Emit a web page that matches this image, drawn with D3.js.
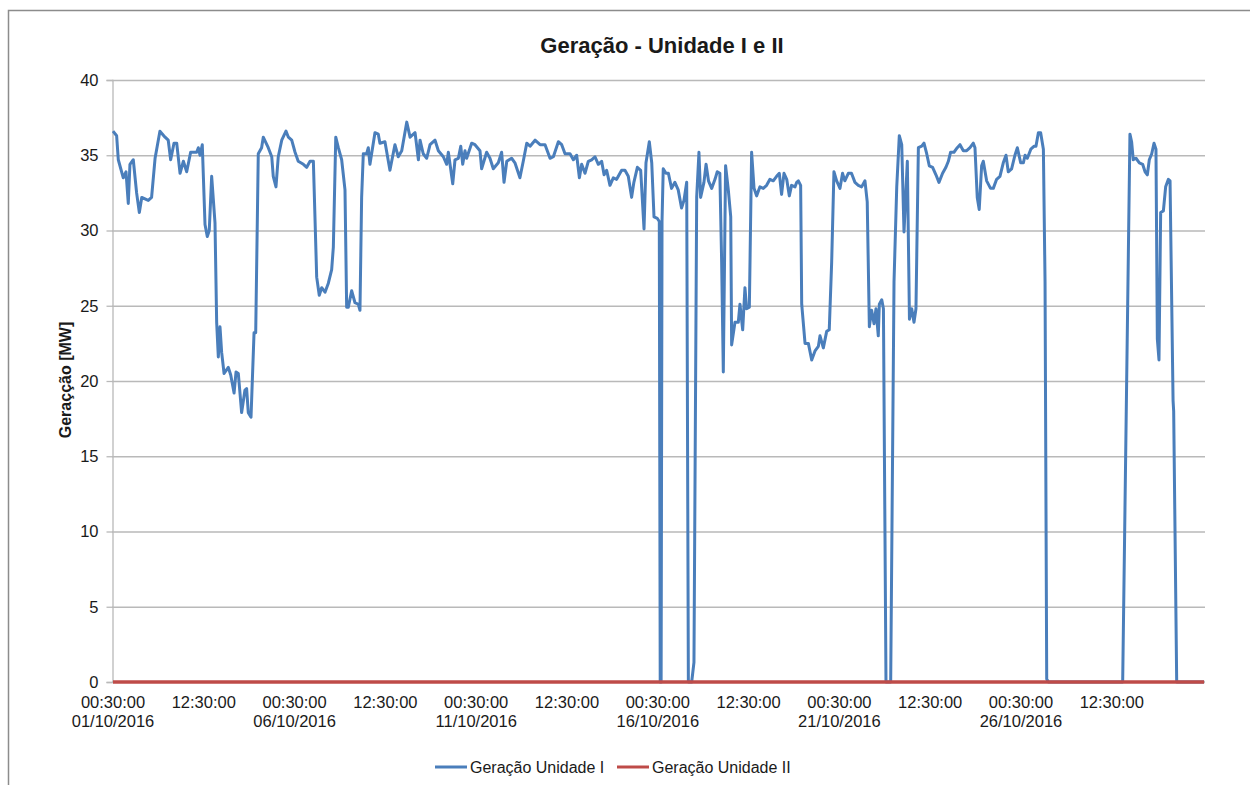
<!DOCTYPE html>
<html>
<head>
<meta charset="utf-8">
<script src="https://cdn.jsdelivr.net/npm/d3@7"></script>
<style>
  body { margin: 0; background: #fff; }
  svg { display: block; font-family: 'Liberation Sans', Arial, sans-serif; }
</style>
</head>
<body>
<div id="chart"></div>
<script>
/* global d3 */

// hours since 01/10/2016 00:30 and generation in MW
const unit1Hours = [
  0, 2.4, 3.5, 6.8, 8.6, 10.1, 11.2, 13.4, 15.6, 17.4, 19, 23.3, 25.5, 27.8, 31, 34.4, 36.5, 38.1,
  40.3, 42.1, 44.3, 46.5, 48.7, 51.3, 55.3, 56.4, 57.5, 59, 60.8, 62.3, 63.6, 65.2, 67.4, 68.5,
  69.6, 70.7, 71.8, 73.4, 76.2, 77.8, 80, 81.3, 82.8, 85, 87.2, 88.3, 89.4, 91.2, 93.2, 94.3,
  96, 98.2, 99.3, 102.6, 104.9, 105.9, 107.7, 109.2, 111.5, 114.3, 115.9, 118.1, 120.3, 122.4,
  125.8, 128, 130.2, 132.4, 134.6, 136.3, 137.9, 140.1, 142.3, 144.5, 145.6, 147.2, 148.9, 151.1,
  153.3, 154.4, 155.5, 157.7, 159.9, 162.1, 163.2, 164.3, 165.4, 167.6, 168.7, 169.8, 173.1,
  175.3, 176.4, 179.7, 183, 186.3, 188.5, 190.8, 194.1, 196.3, 199.6, 201.8, 202.9, 205, 207.3,
  209.5, 212.8, 215, 218.3, 220.5, 221.6, 224.5, 226, 228.2, 229.8, 231.1, 232.6, 233.7, 237,
  239.2, 242.5, 243.6, 246.9, 249.1, 251.3, 254.6, 256.8, 258.4, 260.2, 263.4, 265.6, 268.9,
  271.1, 273.4, 275.6, 278.9, 282.2, 285.5, 288.8, 291, 294.3, 296.5, 298.7, 302, 304.2, 306.4,
  308.2, 309.7, 311.9, 314.1, 316.3, 318.5, 320.7, 322.9, 324.5, 326.2, 328.4, 330.6, 332.8,
  336.1, 338.3, 340.5, 342.7, 344.2, 346.5, 348.7, 350.9, 352.2, 354.4, 356, 357.5, 359.7, 361,
  361.6, 362.2, 362.8, 363.6, 365.4, 367, 369.1, 371.3, 373.5, 375.7, 377.3, 379.1, 380.2, 382.4,
  383.9, 385.7, 387.2, 388.3, 390.5, 391.9, 393.5, 395.6, 397.8, 399.3, 401, 402.2, 403.3, 404.8,
  406.6, 408.2, 408.8, 411, 413.2, 414.3, 416.1, 417.6, 418.7, 420.5, 422, 423.6, 425.3, 427.5,
  429.7, 431.9, 434.1, 436.3, 438.5, 440.3, 441.8, 443.4, 445.2, 446.9, 448.4, 450.7, 451.8,
  452.9, 454.4, 455.1, 457.3, 459.5, 461.7, 463.9, 466.1, 467.2, 469.4, 471.6, 473.3, 474.9,
  476.4, 478.2, 480.4, 482.1, 483.6, 485.9, 488, 490.3, 492.5, 494.7, 496.9, 498.4, 499.8, 501.3,
  502.9, 504.2, 505.7, 506.4, 508, 509.1, 510.8, 513.9, 516.1, 517.9, 519.6, 521.2, 522.7, 524.9,
  526.3, 527.8, 529.3, 530.6, 532.2, 534.4, 535.9, 537.7, 539.4, 541.6, 543.8, 545.8, 548.2,
  550.4, 552, 553.5, 555.7, 557.9, 559.7, 561.9, 564.1, 566.3, 568.5, 569.6, 571.1, 572.4, 574,
  575.1, 577.3, 579.9, 581.7, 583.9, 586.1, 588.3, 590.1, 591.6, 593.8, 596, 597.6, 599.8, 601.6,
  602.7, 604.2, 606.5, 608.7, 609.9, 611.5, 613, 614.8, 615.9, 617, 618.1, 667.2, 672, 673.1,
  674.2, 676, 678.2, 680.4, 682, 683.5, 684.8, 686.4, 687.9, 689.2, 690.1, 691.2, 692.3, 694.1,
  695.6, 697.4, 698.5, 700.5, 700.9, 702.9, 721,
];
const unit1Values = [
  36.6, 36.3, 34.7, 33.5, 33.9, 31.8, 34.4, 34.7, 32.5, 31.2, 32.2, 32.0, 32.2, 34.8, 36.6, 36.2, 36.0, 34.7,
  35.8, 35.8, 33.8, 34.6, 33.9, 35.2, 35.2, 35.5, 35.0, 35.7, 30.4, 29.6, 30.0, 33.6, 30.5, 23.9,
  21.6, 23.6, 21.9, 20.5, 20.9, 20.4, 19.2, 20.6, 20.5, 17.9, 19.4, 19.5, 17.9, 17.6, 23.2, 23.2,
  35.1, 35.5, 36.2, 35.5, 34.9, 33.6, 32.9, 34.9, 36.0, 36.6, 36.2, 36.0, 35.2, 34.6,
  34.4, 34.2, 34.6, 34.6, 26.9, 25.7, 26.2, 25.9, 26.5, 27.4, 28.9, 36.2, 35.5, 34.7,
  32.7, 24.9, 24.9, 26.0, 25.2, 25.1, 24.7, 32.2, 35.1, 35.1, 35.5, 34.4, 36.5,
  36.4, 35.8, 35.9, 34.0, 35.7, 34.9, 35.3, 37.2, 36.2, 36.5, 34.7, 36.0, 35.1, 34.8,
  35.7, 36.0, 35.3, 34.9, 34.4, 35.2, 33.1, 34.7, 34.8, 35.6, 34.4, 35.3, 34.8, 35.8,
  35.7, 35.3, 34.1, 35.2, 34.8, 34.1, 34.5, 35.2, 33.2, 34.6, 34.8, 34.5, 33.5,
  34.6, 35.8, 35.6, 36.0, 35.7, 35.7, 34.8, 34.9, 35.9, 35.7, 35.1, 35.1, 34.7, 35.0,
  33.5, 34.4, 33.8, 34.6, 34.7, 34.9, 34.4, 34.6, 33.7, 34.0, 33.0, 33.5, 33.4,
  34.0, 34.0, 33.6, 32.2, 33.2, 34.2, 34.0, 30.1, 34.5, 35.9, 34.5, 30.9, 30.8, 30.6,
  0, 0, 30.6, 34.1, 33.8, 33.8, 32.8, 33.2, 32.7, 31.5, 32.0, 33.2, 0, 0,
  1.3, 32.2, 35.2, 32.2, 33.2, 34.4, 33.3, 32.8, 33.4, 33.9, 33.8, 27.9, 20.6, 34.3,
  32.7, 30.9, 22.4, 23.9, 23.9, 25.1, 23.4, 26.2, 24.8, 24.9, 35.2, 32.8, 32.3, 32.9,
  32.8, 33.0, 33.4, 33.3, 33.6, 33.8, 32.4, 33.8, 33.4, 32.3, 33.0, 32.9, 33.2,
  33.3, 33.0, 25.1, 22.5, 22.5, 21.4, 22.0, 22.3, 23.0, 22.2, 23.3, 23.4, 27.9,
  33.9, 33.3, 32.8, 33.8, 33.3, 33.8, 33.8, 33.2, 33.0, 32.9, 33.3, 31.9, 23.6, 24.7,
  23.8, 24.8, 23.0, 25.1, 25.4, 24.8, 0, 0, 26.6, 32.9, 36.3, 35.7, 29.9, 34.6,
  24.1, 24.8, 23.9, 24.8, 35.5, 35.6, 35.8, 35.1, 34.3, 34.2, 33.7, 33.2, 33.8,
  34.2, 34.6, 35.2, 35.2, 35.5, 35.7, 35.3, 35.3, 35.5, 35.8, 35.5, 32.2, 31.4, 34.3,
  34.6, 33.3, 32.8, 32.8, 33.4, 33.6, 34.5, 35.0, 33.9, 34.1, 35.0, 35.5, 34.5, 34.5,
  35.0, 34.8, 35.4, 35.6, 35.6, 36.5, 36.5, 35.4, 26.6, 0.2, 0, 0, 36.4, 35.9,
  34.7, 34.8, 34.5, 34.4, 33.9, 33.7, 34.7, 35.1, 35.8, 35.4, 22.8, 21.4, 31.2, 31.3,
  32.9, 33.4, 33.3, 18.7, 18.0, 0, 0,
];
const unit2Hours = [0, 721];
const unit2Values = [0, 0];

const yTicks = [0, 5, 10, 15, 20, 25, 30, 35, 40];
const xTickHours = [0, 60, 120, 180, 240, 300, 360, 420, 480, 540, 600, 660];
const seriesNames = ['Geração Unidade I', 'Geração Unidade II'];
const chartTitle = 'Geração - Unidade I e II';
const yTitle = 'Geraçção [MW]';

const width = 1250;
const height = 785;
const plotLeft = 113;
const plotRight = 1205;
const plotTop = 80;
const plotBottom = 682;

const blue = '#4a7ebb';
const red = '#be4b48';
const gridGray = '#b9b9b9';

const start = Date.UTC(2016, 9, 1, 0, 30);
const hourMs = 3600 * 1000;
const toDate = (h) => new Date(start + h * hourMs);

const svg = d3.select('#chart')
  .append('svg')
  .attr('width', width)
  .attr('height', height);

svg.append('rect')
  .attr('width', width)
  .attr('height', height)
  .attr('fill', '#fff');

// outer frame
svg.append('rect')
  .attr('x', 8.5)
  .attr('y', 10.5)
  .attr('width', 1300)
  .attr('height', 900)
  .attr('fill', 'none')
  .attr('stroke', '#8c8c8c')
  .attr('stroke-width', 1.5);

const xScale = d3.scaleUtc()
  .domain([toDate(0), toDate(721.6)])
  .range([plotLeft, plotRight]);

const yScale = d3.scaleLinear()
  .domain([0, 40])
  .range([plotBottom, plotTop]);

// gridlines
svg.append('g')
  .selectAll('line')
  .data(yTicks.filter((d) => d > 0))
  .enter()
  .append('line')
  .attr('x1', plotLeft - 1)
  .attr('x2', plotRight)
  .attr('y1', (d) => yScale(d) + 0.5)
  .attr('y2', (d) => yScale(d) + 0.5)
  .attr('stroke', gridGray)
  .attr('stroke-width', 1.3);

// y axis
const yAxis = d3.axisLeft(yScale)
  .tickValues(yTicks)
  .tickSize(6)
  .tickPadding(8);

const yG = svg.append('g')
  .attr('transform', `translate(${plotLeft - 0.5} 0)`)
  .call(yAxis);
yG.select('.domain').attr('stroke', gridGray).attr('stroke-width', 1.3);
yG.selectAll('.tick line').attr('stroke', gridGray).attr('stroke-width', 1.3);
yG.selectAll('.tick text')
  .attr('fill', '#1a1a1a')
  .style('font-size', '16.5px')
  .style('font-family', "'Liberation Sans', Arial, sans-serif");

// x axis
const timeFmt = d3.utcFormat('%H:%M:%S');
const dateFmt = d3.utcFormat('%d/%m/%Y');

const xG = svg.append('g')
  .attr('transform', `translate(0 ${plotBottom})`);
xG.append('line')
  .attr('x1', plotLeft - 1)
  .attr('x2', plotRight)
  .attr('stroke', gridGray)
  .attr('stroke-width', 1.3);

const xLabels = xG.selectAll('text')
  .data(xTickHours)
  .enter()
  .append('text')
  .attr('text-anchor', 'middle')
  .attr('fill', '#1a1a1a')
  .style('font-size', '16.5px');

xLabels.append('tspan')
  .attr('x', (d) => xScale(toDate(d)))
  .attr('y', 26)
  .text((d) => timeFmt(toDate(d)));

xLabels.filter((d) => toDate(d).getUTCHours() === 0)
  .append('tspan')
  .attr('x', (d) => xScale(toDate(d)))
  .attr('y', 45)
  .text((d) => dateFmt(toDate(d)));

// series lines
const line = d3.line()
  .x((d) => xScale(toDate(d.h)))
  .y((d) => yScale(d.v));

const unit1 = unit1Hours.map((h, i) => ({ h, v: unit1Values[i] }));
const unit2 = unit2Hours.map((h, i) => ({ h, v: unit2Values[i] }));

svg.append('path')
  .datum(unit1)
  .attr('d', line)
  .attr('fill', 'none')
  .attr('stroke', blue)
  .attr('stroke-width', 3)
  .attr('stroke-linejoin', 'round');

svg.append('path')
  .datum(unit2)
  .attr('d', line)
  .attr('fill', 'none')
  .attr('stroke', red)
  .attr('stroke-width', 3.4);

// title
svg.append('text')
  .attr('x', 662)
  .attr('y', 53)
  .attr('text-anchor', 'middle')
  .attr('fill', '#1a1a1a')
  .style('font-size', '22px')
  .style('font-weight', 'bold')
  .text(chartTitle);

// y axis title
svg.append('text')
  .attr('transform', 'translate(71 380)rotate(-90)')
  .attr('text-anchor', 'middle')
  .attr('fill', '#1a1a1a')
  .style('font-size', '16px')
  .style('font-weight', 'bold')
  .text(yTitle);

// legend
const legend = svg.append('g')
  .attr('transform', 'translate(435 767)');

[blue, red].forEach((c, i) => {
  const ox = i === 0 ? 0 : 182;
  legend.append('line')
    .attr('x1', ox)
    .attr('x2', ox + 32)
    .attr('stroke', c)
    .attr('stroke-width', 3);
  legend.append('text')
    .attr('x', ox + 35)
    .attr('y', 6)
    .attr('fill', '#1a1a1a')
    .style('font-size', '16px')
    .text(seriesNames[i]);
});
</script>
</body>
</html>
